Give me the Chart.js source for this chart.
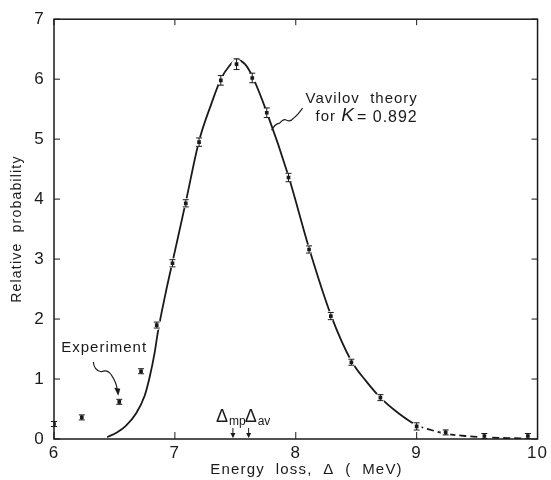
<!DOCTYPE html>
<html>
<head>
<meta charset="utf-8">
<script src="https://cdn.jsdelivr.net/npm/chart.js@4.4.1/dist/chart.umd.min.js"></script>
<style>
  html, body { margin: 0; padding: 0; background: #fff; }
  #wrap { width: 551px; height: 480px; }
</style>
</head>
<body>
<div id="wrap"><canvas id="chart" width="551" height="480"></canvas></div>
<script>
// experiment: energy loss (MeV), relative probability, error half-height
const expEnergy = [6.00, 6.23, 6.54, 6.72, 6.85, 6.98, 7.09, 7.20, 7.38, 7.51, 7.64, 7.76, 7.94, 8.11, 8.29, 8.46, 8.70, 9.00, 9.24, 9.56, 9.92]
const expProb = [0.25, 0.36, 0.62, 1.13, 1.90, 2.93, 3.93, 4.95, 5.98, 6.25, 6.02, 5.44, 4.36, 3.16, 2.05, 1.28, 0.69, 0.21, 0.11, 0.05, 0.05]
const expError = [0.02, 0.02, 0.03, 0.04, 0.05, 0.06, 0.06, 0.07, 0.08, 0.09, 0.08, 0.08, 0.07, 0.06, 0.06, 0.05, 0.05, 0.06, 0.03, 0.02, 0.02]

// Vavilov theory curve
const theoryEnergy = [6.44, 6.52, 6.59, 6.68, 6.75, 6.79, 6.83, 6.86, 6.92, 6.98, 7.09, 7.20, 7.30, 7.38, 7.45, 7.51, 7.58, 7.64, 7.76, 7.94, 8.11, 8.29, 8.46, 8.58, 8.70, 8.85, 9.00, 9.12, 9.24, 9.40, 9.56, 9.75, 9.95]
const theoryProb = [0.03, 0.11, 0.21, 0.43, 0.72, 1.02, 1.41, 1.79, 2.40, 2.95, 3.95, 4.97, 5.58, 6.00, 6.22, 6.32, 6.25, 6.05, 5.45, 4.38, 3.18, 2.07, 1.30, 0.97, 0.69, 0.43, 0.23, 0.15, 0.09, 0.05, 0.03, 0.015, 0.01]

const xTicks = [6, 7, 8, 9, 10]
const yTicks = [0, 1, 2, 3, 4, 5, 6, 7]

// most probable and average energy loss
const deltaMp = 7.48
const deltaAv = 7.61

const ink = '#1a1a1a'
const fontFamily = '"Liberation Sans", "DejaVu Sans", sans-serif'

const toPoints = (xs, ys) => xs.map((v, i) => ({ x: v, y: ys[i] }))

/**
 * Espacement des lettres façon lettrage technique
 */
const lettering = {
  id: 'lettering',
  beforeDraw(chart) {
    chart.ctx.letterSpacing = '1.2px'
  },
  afterDraw(chart) {
    chart.ctx.letterSpacing = '0px'
  },
}

/**
 * Cadre, graduations intérieures, barres d'erreur et annotations
 */
const decorations = {
  id: 'decorations',
  afterDatasetsDraw(chart) {
    const { ctx, chartArea: a, scales: { x, y } } = chart
    ctx.save()
    ctx.strokeStyle = ink
    ctx.fillStyle = ink

    // frame
    ctx.lineWidth = 1.5
    ctx.strokeRect(a.left, a.top, a.right - a.left, a.bottom - a.top)

    // inward ticks
    ctx.lineWidth = 1
    ctx.beginPath()
    xTicks.forEach((t) => {
      const px = x.getPixelForValue(t)
      ctx.moveTo(px, a.bottom); ctx.lineTo(px, a.bottom - 7)
      ctx.moveTo(px, a.top); ctx.lineTo(px, a.top + 6)
    })
    yTicks.forEach((t) => {
      const py = y.getPixelForValue(t)
      ctx.moveTo(a.left, py); ctx.lineTo(a.left + 6, py)
      ctx.moveTo(a.right, py); ctx.lineTo(a.right - 6, py)
    })
    ctx.stroke()

    // error bars
    ctx.beginPath()
    expEnergy.forEach((e, i) => {
      const px = x.getPixelForValue(e)
      const top = Math.min(y.getPixelForValue(expProb[i] + expError[i]), y.getPixelForValue(expProb[i]) - 2.5)
      const bot = Math.max(y.getPixelForValue(expProb[i] - expError[i]), y.getPixelForValue(expProb[i]) + 2.5)
      ctx.moveTo(px, top); ctx.lineTo(px, bot)
      ctx.moveTo(px - 3, top); ctx.lineTo(px + 3, top)
      ctx.moveTo(px - 3, bot); ctx.lineTo(px + 3, bot)
    })
    ctx.stroke()

    ctx.letterSpacing = '1px'
    ctx.textBaseline = 'middle'
    ctx.textAlign = 'left'

    // "Experiment" with curly arrow
    ctx.font = '15px ' + fontFamily
    ctx.fillText('Experiment', x.getPixelForValue(6.06), y.getPixelForValue(1.52))
    const tipX = x.getPixelForValue(6.54) - 2
    const tipY = y.getPixelForValue(0.62) - 8
    ctx.lineWidth = 1.1
    ctx.beginPath()
    ctx.moveTo(tipX - 24, tipY - 32)
    ctx.quadraticCurveTo(tipX - 23, tipY - 23, tipX - 16, tipY - 22)
    ctx.quadraticCurveTo(tipX - 10, tipY - 25, tipX - 6, tipY - 19)
    ctx.quadraticCurveTo(tipX - 1, tipY - 12, tipX, tipY - 4)
    ctx.stroke()
    ctx.beginPath()
    ctx.moveTo(tipX + 1, tipY + 2)
    ctx.lineTo(tipX - 3, tipY - 6)
    ctx.lineTo(tipX + 3, tipY - 5)
    ctx.closePath()
    ctx.fill()

    // "Vavilov theory for K = 0.892" with wavy leader
    const lx = x.getPixelForValue(7.80)
    const ly = y.getPixelForValue(5.15)
    ctx.beginPath()
    ctx.moveTo(lx, ly)
    ctx.quadraticCurveTo(lx + 3, ly - 6, lx + 8, ly - 7)
    ctx.quadraticCurveTo(lx + 12, ly - 12, lx + 15, ly - 10)
    ctx.quadraticCurveTo(lx + 19, ly - 8, lx + 22, ly - 12)
    ctx.quadraticCurveTo(lx + 26, ly - 15, lx + 31, ly - 22)
    ctx.stroke()
    const tx = lx + 34
    const ty = ly - 31
    ctx.font = '15px ' + fontFamily
    ctx.fillText('Vavilov  theory', tx, ty)
    let cx = tx + 10
    ctx.fillText('for ', cx, ty + 18)
    cx += ctx.measureText('for ').width
    ctx.font = 'italic 19px ' + fontFamily
    ctx.fillText('K', cx, ty + 17)
    cx += ctx.measureText('K').width + 2
    ctx.font = '16px ' + fontFamily
    ctx.fillText('= 0.892', cx, ty + 18)

    // Δmp and Δav markers
    ctx.letterSpacing = '0px'
    ctx.textBaseline = 'alphabetic'
    const marks = [[deltaMp, 'mp', -17], [deltaAv, 'av', -4]]
    marks.forEach(([v, sub, dx]) => {
      const px = x.getPixelForValue(v)
      ctx.lineWidth = 1
      ctx.beginPath()
      ctx.moveTo(px, a.bottom - 11); ctx.lineTo(px, a.bottom - 2)
      ctx.stroke()
      ctx.beginPath()
      ctx.moveTo(px, a.bottom - 1)
      ctx.lineTo(px - 2.5, a.bottom - 6)
      ctx.lineTo(px + 2.5, a.bottom - 6)
      ctx.closePath()
      ctx.fill()
      ctx.font = '18px ' + fontFamily
      ctx.fillText('Δ', px + dx, a.bottom - 17)
      const w = ctx.measureText('Δ').width
      ctx.font = '12px ' + fontFamily
      ctx.fillText(sub, px + dx + w + 1, a.bottom - 14)
    })

    ctx.restore()
  },
}

new Chart(document.getElementById('chart'), {
  type: 'scatter',
  data: {
    datasets: [
      {
        // markers
        data: toPoints(expEnergy, expProb),
        pointStyle: 'rect',
        pointRadius: 2.6,
        backgroundColor: ink,
        borderColor: ink,
        borderWidth: 0,
        order: 1,
      },
      {
        // white halo so the curve breaks at each marker
        data: toPoints(expEnergy, expProb),
        pointStyle: 'circle',
        pointRadius: 5,
        backgroundColor: '#fff',
        borderWidth: 0,
        order: 2,
      },
      {
        type: 'line',
        data: toPoints(theoryEnergy, theoryProb),
        borderColor: ink,
        borderWidth: 1.8,
        pointRadius: 0,
        cubicInterpolationMode: 'monotone',
        fill: false,
        segment: {
          borderDash: (c) => (c.p0.parsed.x >= 9 ? [7, 4] : undefined),
        },
        order: 3,
      },
    ],
  },
  options: {
    responsive: false,
    animation: false,
    devicePixelRatio: 1,
    layout: { padding: { top: 14, right: 6, left: 0, bottom: 0 } },
    plugins: {
      legend: { display: false },
      tooltip: { enabled: false },
    },
    scales: {
      x: {
        type: 'linear',
        min: 6,
        max: 10,
        afterFit: (s) => { s.height = 41 },
        afterBuildTicks: (s) => { s.ticks = xTicks.map((v) => ({ value: v })) },
        grid: { display: false, drawTicks: false },
        border: { display: false },
        ticks: {
          color: ink,
          padding: 4,
          font: { family: fontFamily, size: 17 },
        },
        title: {
          display: true,
          text: '    Energy  loss,  Δ  (  MeV)',
          color: ink,
          padding: { top: 0, bottom: 1 },
          font: { family: fontFamily, size: 15 },
        },
      },
      y: {
        min: 0,
        max: 7,
        afterFit: (s) => { s.width = 54 },
        afterBuildTicks: (s) => { s.ticks = yTicks.map((v) => ({ value: v })) },
        grid: { display: false, drawTicks: false },
        border: { display: false },
        ticks: {
          color: ink,
          padding: 9,
          font: { family: fontFamily, size: 17 },
        },
        title: {
          display: true,
          text: 'Relative  probability',
          color: ink,
          padding: { top: 9, bottom: 0 },
          font: { family: fontFamily, size: 14 },
        },
      },
    },
  },
  plugins: [lettering, decorations],
})
</script>
</body>
</html>
